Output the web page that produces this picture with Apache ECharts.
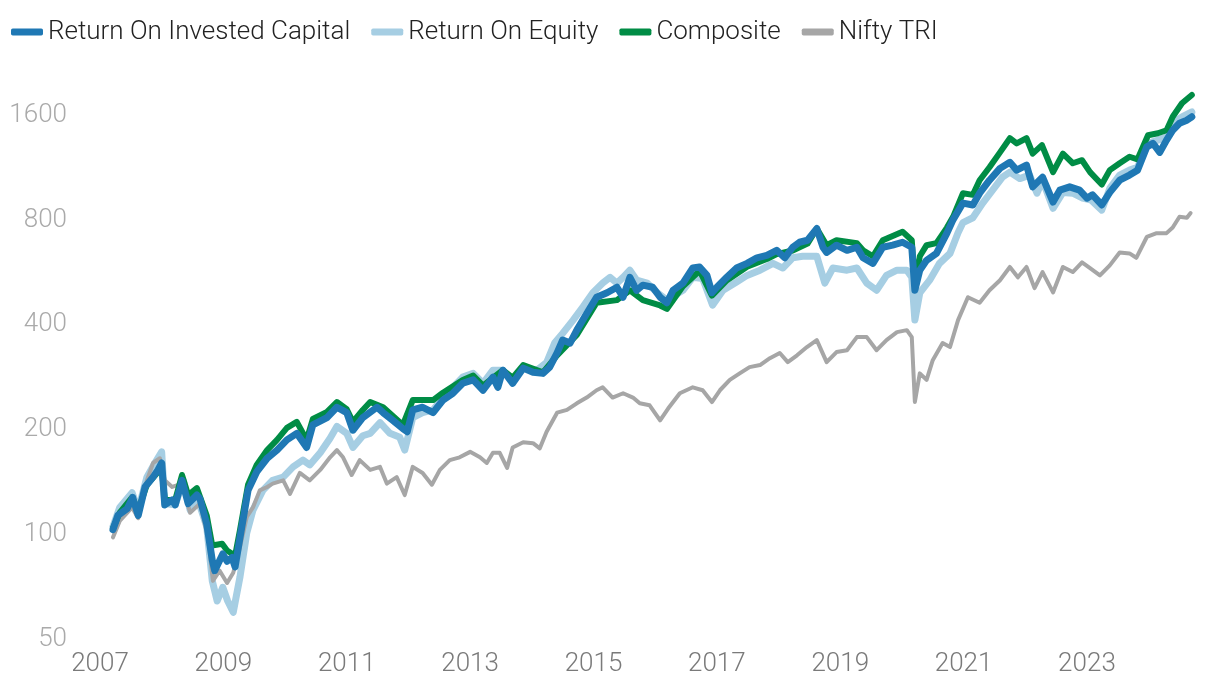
<!DOCTYPE html>
<html>
<head>
<meta charset="utf-8">
<script src="https://cdn.jsdelivr.net/npm/echarts@6/dist/echarts.min.js"></script>
<style>
html,body{margin:0;padding:0;background:#fff;}
#chart{width:1220px;height:688px;}
</style>
</head>
<body>
<div id="chart"></div>
<script>
const seriesNames = ['Return On Invested Capital','Return On Equity','Composite','Nifty TRI'];
const xTickLabels = [2007,2009,2011,2013,2015,2017,2019,2021,2023];
const yTickLabels = [50,100,200,400,800,1600];

const roic = [
[2007.21,101],[2007.29,111],[2007.44,116],[2007.53,125],[2007.62,111],[2007.73,134],[2007.86,143],[2007.94,150],
[2008.00,157],[2008.05,119],[2008.17,123],[2008.22,119],[2008.33,140],[2008.43,120],[2008.57,127],[2008.62,124],
[2008.73,105],[2008.82,82.5],[2008.86,77],[2008.99,86],[2009.06,82],[2009.14,84],[2009.19,79],[2009.27,96],
[2009.40,131],[2009.54,148],[2009.71,162],[2009.87,171],[2010.03,183],[2010.19,191],[2010.35,174],[2010.45,202],
[2010.68,212],[2010.84,227],[2011.00,219],[2011.10,195],[2011.26,212],[2011.49,227],[2011.59,219],[2011.75,208],
[2011.91,197],[2011.98,193],[2012.07,223],[2012.23,227],[2012.40,219],[2012.56,238],[2012.72,249],[2012.88,266],
[2013.05,272],[2013.21,254],[2013.37,277],[2013.45,259],[2013.53,290],[2013.69,266],[2013.86,294],[2014.02,286],
[2014.18,284],[2014.29,296],[2014.41,325],[2014.50,354],[2014.62,347],[2014.73,378],[2014.89,422],[2015.05,470],
[2015.22,484],[2015.38,502],[2015.48,470],[2015.59,536],[2015.70,492],[2015.80,509],[2015.96,502],[2016.08,470],
[2016.19,453],[2016.29,492],[2016.45,516],[2016.61,570],[2016.72,574],[2016.84,543],[2016.92,484],[2017.00,502],
[2017.16,536],[2017.32,570],[2017.49,588],[2017.65,610],[2017.81,620],[2017.97,641],[2018.10,610],[2018.23,654],
[2018.34,676],[2018.47,685],[2018.62,740],[2018.72,654],[2018.78,632],[2018.94,663],[2019.11,641],[2019.27,654],
[2019.37,610],[2019.53,588],[2019.69,654],[2019.85,663],[2020.01,676],[2020.16,654],[2020.21,492],[2020.29,562],
[2020.40,600],[2020.56,628],[2020.73,718],[2020.83,785],[2020.99,876],[2021.15,865],[2021.26,935],[2021.42,1019],
[2021.59,1102],[2021.75,1147],[2021.86,1089],[2022.02,1126],[2022.12,975],[2022.28,1040],[2022.45,882],[2022.56,954],
[2022.72,975],[2022.88,954],[2023.00,905],[2023.09,925],[2023.24,865],[2023.37,940],[2023.53,1019],[2023.69,1054],
[2023.82,1089],[2023.97,1270],[2024.07,1300],[2024.18,1225],[2024.29,1328],[2024.39,1418],[2024.50,1485],[2024.62,1515],
[2024.70,1550]
];

const composite = [
[2007.21,102],[2007.32,113],[2007.52,125],[2007.62,115],[2007.76,136],[2007.94,148],[2008.00,152],[2008.05,123],
[2008.22,123],[2008.33,145],[2008.43,127],[2008.57,133],[2008.73,111],[2008.82,91],[2008.98,92],[2009.06,88],
[2009.19,85],[2009.27,101],[2009.40,136],[2009.54,155],[2009.71,171],[2009.87,183],[2010.03,198],[2010.19,206],
[2010.35,183],[2010.45,210],[2010.68,220],[2010.84,235],[2011.00,224],[2011.10,206],[2011.26,223],[2011.38,235],
[2011.59,227],[2011.91,202],[2012.07,238],[2012.40,238],[2012.56,250],[2012.88,272],[2013.05,280],[2013.21,262],
[2013.53,290],[2013.69,276],[2013.86,300],[2014.18,286],[2014.41,320],[2014.73,366],[2015.05,453],[2015.38,461],
[2015.59,492],[2015.80,461],[2016.08,445],[2016.19,435],[2016.45,505],[2016.72,560],[2016.92,475],[2017.16,525],
[2017.49,575],[2017.81,605],[2017.97,625],[2018.23,640],[2018.47,670],[2018.62,740],[2018.78,663],[2018.94,685],
[2019.27,672],[2019.37,641],[2019.53,616],[2019.69,685],[2020.01,725],[2020.16,685],[2020.21,509],[2020.29,616],
[2020.40,663],[2020.56,672],[2020.73,745],[2020.83,800],[2020.99,935],[2021.15,925],[2021.26,1019],[2021.42,1110],
[2021.59,1225],[2021.75,1345],[2021.86,1300],[2022.02,1345],[2022.12,1215],[2022.27,1285],[2022.45,1075],[2022.61,1215],
[2022.77,1140],[2022.92,1163],[2023.05,1075],[2023.24,990],[2023.37,1089],[2023.53,1140],[2023.69,1190],[2023.82,1170],
[2023.99,1372],[2024.15,1390],[2024.29,1418],[2024.39,1550],[2024.54,1695],[2024.70,1790]
];

const roe = [
[2007.21,103],[2007.32,117],[2007.52,129],[2007.62,115],[2007.76,143],[2007.89,157],[2008.00,169],[2008.05,120],
[2008.22,119],[2008.35,140],[2008.46,115],[2008.59,123],[2008.73,103],[2008.82,72],[2008.90,63],[2008.99,69],
[2009.07,63],[2009.16,58.5],[2009.27,74],[2009.38,99],[2009.48,115],[2009.64,131],[2009.80,140],[2009.97,143],
[2010.13,153],[2010.29,160],[2010.40,155],[2010.57,168],[2010.73,185],[2010.84,200],[2011.00,191],[2011.10,174],
[2011.26,188],[2011.38,191],[2011.54,205],[2011.70,191],[2011.86,186],[2011.94,171],[2012.07,212],[2012.23,219],
[2012.40,223],[2012.56,242],[2012.72,259],[2012.88,277],[2013.05,284],[2013.21,266],[2013.37,290],[2013.53,290],
[2013.69,272],[2013.86,294],[2014.08,290],[2014.24,305],[2014.37,347],[2014.50,370],[2014.67,404],[2014.83,441],
[2014.99,484],[2015.15,516],[2015.27,536],[2015.38,516],[2015.48,536],[2015.59,562],[2015.70,526],[2015.87,516],
[2016.03,485],[2016.19,461],[2016.45,492],[2016.61,536],[2016.77,532],[2016.93,446],[2017.10,492],[2017.32,520],
[2017.49,543],[2017.70,562],[2017.91,588],[2018.07,570],[2018.23,610],[2018.39,616],[2018.62,616],[2018.75,516],
[2018.88,570],[2019.11,562],[2019.27,570],[2019.43,516],[2019.59,492],[2019.75,543],[2019.92,562],[2020.08,562],
[2020.16,536],[2020.21,404],[2020.29,484],[2020.45,526],[2020.61,588],[2020.78,628],[2020.91,720],[2020.99,770],
[2021.15,795],[2021.31,876],[2021.47,954],[2021.63,1040],[2021.75,1075],[2021.91,1030],[2022.07,1054],[2022.19,935],
[2022.28,1019],[2022.45,846],[2022.61,940],[2022.77,935],[2022.93,905],[2023.07,893],[2023.24,836],[2023.37,965],
[2023.53,1054],[2023.69,1089],[2023.82,1110],[2023.99,1300],[2024.15,1328],[2024.29,1355],[2024.39,1485],[2024.54,1550],
[2024.70,1600]
];

const nifty = [
[2007.21,96],[2007.32,107],[2007.52,117],[2007.62,109],[2007.76,140],[2007.86,157],[2007.97,162],[2008.05,140],
[2008.17,134],[2008.33,137],[2008.46,113],[2008.62,120],[2008.75,96],[2008.83,72],[2008.94,77],[2009.06,71],
[2009.16,76],[2009.27,90],[2009.38,110],[2009.48,117],[2009.59,131],[2009.71,134],[2009.80,137],[2009.97,140],
[2010.08,128],[2010.24,147],[2010.40,140],[2010.57,150],[2010.73,163],[2010.84,171],[2010.94,163],[2011.08,145],
[2011.21,160],[2011.38,150],[2011.54,153],[2011.65,137],[2011.81,143],[2011.94,127],[2012.07,153],[2012.23,147],
[2012.38,136],[2012.51,150],[2012.67,160],[2012.83,163],[2013.00,169],[2013.16,163],[2013.27,157],[2013.37,168],
[2013.48,168],[2013.60,152],[2013.69,174],[2013.86,180],[2014.02,179],[2014.13,173],[2014.24,193],[2014.41,219],
[2014.57,223],[2014.73,233],[2014.89,242],[2015.05,254],[2015.15,259],[2015.31,242],[2015.48,249],[2015.64,242],
[2015.75,233],[2015.91,230],[2016.08,208],[2016.21,225],[2016.40,249],[2016.61,259],[2016.77,254],[2016.92,235],
[2017.05,254],[2017.21,272],[2017.37,284],[2017.53,296],[2017.70,300],[2017.86,314],[2018.02,325],[2018.15,306],
[2018.30,320],[2018.46,338],[2018.62,354],[2018.78,306],[2018.94,327],[2019.11,331],[2019.27,361],[2019.43,361],
[2019.59,331],[2019.75,354],[2019.92,373],[2020.08,378],[2020.16,361],[2020.21,235],[2020.29,284],[2020.40,272],
[2020.50,310],[2020.66,347],[2020.78,338],[2020.91,404],[2021.07,470],[2021.26,453],[2021.42,492],[2021.59,526],
[2021.75,574],[2021.88,536],[2022.02,574],[2022.15,499],[2022.28,555],[2022.45,485],[2022.61,574],[2022.77,555],
[2022.92,592],[2023.05,570],[2023.21,543],[2023.37,580],[2023.53,632],[2023.69,628],[2023.80,610],[2023.97,700],
[2024.13,718],[2024.29,718],[2024.39,745],[2024.50,800],[2024.62,795],[2024.68,820]
];

const colors = {roic:'#1f78b4', roe:'#a6cee3', composite:'#008c45', nifty:'#a6a6a6'};
const FONT = 'Roboto';

function nearestTick(v, list){
  let best = null;
  list.forEach(t => { if (Math.abs(Math.log2(v / t)) < 0.03) best = t; });
  return best;
}

const chart = echarts.init(document.getElementById('chart'), null, {renderer:'canvas'});
function lineSeries(name, data, color, width){
  return {
    name, type:'line', data, showSymbol:false, symbol:'none', animation:false,
    lineStyle:{color, width, cap:'round', join:'round'},
    itemStyle:{color}, emphasis:{disabled:true}
  };
}
chart.setOption({
  animation:false,
  backgroundColor:'#fff',
  textStyle:{fontFamily:FONT},
  legend:{
    data:seriesNames, left:6, top:14, icon:'roundRect', itemWidth:32, itemHeight:7, itemGap:21,
    textStyle:{fontFamily:FONT, fontSize:26, fontWeight:300, color:'#222'}
  },
  grid:{left:100, right:22, top:86, bottom:52, containLabel:false},
  xAxis:{
    type:'value', min:2007, max:2024.8, interval:2,
    axisLine:{show:false}, axisTick:{show:false}, splitLine:{show:false},
    axisLabel:{margin:15, fontFamily:FONT, fontSize:26, fontWeight:300, color:'#7a7a7a',
      formatter:v=> xTickLabels.includes(Math.round(v)) && Math.abs(v-Math.round(v))<1e-6 ? String(Math.round(v)) : ''}
  },
  yAxis:{
    type:'log', logBase:2, min:50, max:1900, interval:1,
    axisLine:{show:false}, axisTick:{show:false}, splitLine:{show:false},
    axisLabel:{margin:33, fontFamily:FONT, fontSize:26, fontWeight:300, color:'#aaaaaa',
      rich:{t:{fontFamily:FONT, fontSize:26, fontWeight:300, color:'#aaaaaa', padding:[6,0,0,0]}},
      formatter:v=>{const t = nearestTick(v, yTickLabels); return t === null ? '' : '{t|' + t + '}';}}
  },
  series:[
    lineSeries(seriesNames[1], roe, colors.roe, 7),
    lineSeries(seriesNames[3], nifty, colors.nifty, 4),
    lineSeries(seriesNames[2], composite, colors.composite, 6),
    lineSeries(seriesNames[0], roic, colors.roic, 7)
  ]
});
</script>
</body>
</html>
